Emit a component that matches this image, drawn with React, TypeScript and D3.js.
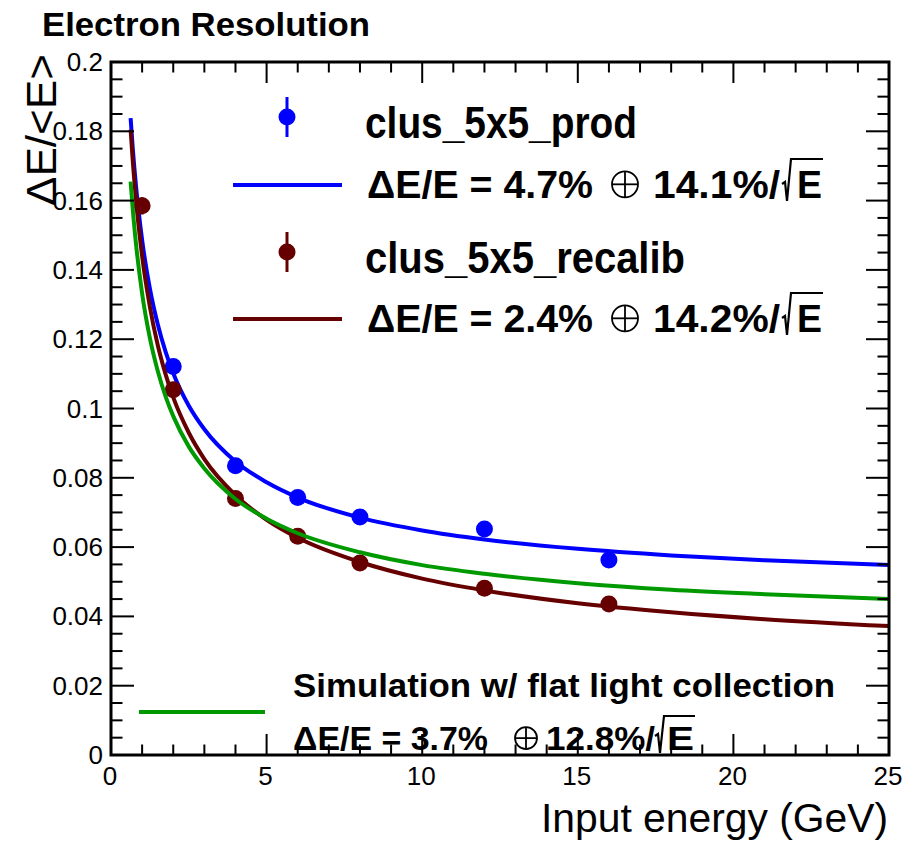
import React from "react";
import * as d3 from "d3";

// ---------- data ----------
const prodEnergy = [2, 4, 6, 8, 12, 16];
const prodRes = [0.1121, 0.0835, 0.0743, 0.0687, 0.0652, 0.0563];
const prodErr = [0.0015, 0.001, 0.001, 0.001, 0.0012, 0.001];

const recalEnergy = [1, 2, 4, 6, 8, 12, 16];
const recalRes = [0.1585, 0.1054, 0.074, 0.0631, 0.0554, 0.0481, 0.0436];
const recalErr = [0.0025, 0.0015, 0.001, 0.001, 0.001, 0.001, 0.001];

const fitEnergy = [0.63, 0.7, 0.8, 1, 1.25, 1.5, 1.75, 2, 2.5, 3, 4, 5, 6, 8, 10, 12, 15, 18, 21, 25];
const prodFit = [0.1838, 0.175, 0.1645, 0.1486, 0.1346, 0.1244, 0.1165, 0.1102, 0.1008, 0.094, 0.0847, 0.0787, 0.0743, 0.0685, 0.0648, 0.0622, 0.0595, 0.0576, 0.0562, 0.0548];
const recalFit = [0.1805, 0.1714, 0.1606, 0.144, 0.1293, 0.1184, 0.11, 0.1032, 0.093, 0.0854, 0.075, 0.0679, 0.0627, 0.0557, 0.0509, 0.0475, 0.0438, 0.0412, 0.0392, 0.0372];
const simFit = [0.1655, 0.1574, 0.1478, 0.1332, 0.1203, 0.1109, 0.1036, 0.0978, 0.089, 0.0827, 0.0739, 0.0682, 0.064, 0.0585, 0.0548, 0.0523, 0.0496, 0.0477, 0.0464, 0.045];

const xTicks = [0, 5, 10, 15, 20, 25];
const yTicks = [0, 0.02, 0.04, 0.06, 0.08, 0.1, 0.12, 0.14, 0.16, 0.18, 0.2];

const BLUE = "#0000ff";
const BROWN = "#660000";
const GREEN = "#009900";
const FONT = "'Liberation Sans', Arial, Helvetica, sans-serif";

const L = 111, R = 889, T = 62, B = 755;

function Radical({ x, yb, top, xEnd }: { x: number; yb: number; top: number; xEnd: number }) {
  return (
    <path
      d={`M${x},${yb - 14} L${x + 3},${yb - 16} L${x + 5},${yb + 3} L${x + 9},${top} L${xEnd},${top}`}
      fill="none"
      stroke="#000"
      strokeWidth={2.2}
    />
  );
}

function OPlus({ cx, cy, r }: { cx: number; cy: number; r: number }) {
  return (
    <g stroke="#000" strokeWidth={1.8} fill="none">
      <circle cx={cx} cy={cy} r={r} />
      <line x1={cx - r} x2={cx + r} y1={cy} y2={cy} />
      <line x1={cx} x2={cx} y1={cy - r} y2={cy + r} />
    </g>
  );
}

function Formula({ x, yb, size, a, b, w }: { x: number; yb: number; size: number; a: string; b: string; w: number[] }) {
  // w: [lenA, oplusStart, oplusEnd, bStart, bLen, radStart, eStart, eLen, overTopOffset]
  const [lenA, oS, oE, bS, bLen, rS, eS, eLen, topOff] = w;
  const r = (oE - oS) / 2;
  return (
    <g fontFamily={FONT}>
      <text x={x} y={yb} fontSize={size} fontWeight="bold" textLength={lenA} lengthAdjust="spacingAndGlyphs">
        {`ΔE/E = ${a}%`}
      </text>
      <OPlus cx={x + (oS + oE) / 2} cy={yb - size * 0.36} r={r} />
      <text x={x + bS} y={yb} fontSize={size} fontWeight="bold" textLength={bLen} lengthAdjust="spacingAndGlyphs">
        {`${b}%/`}
      </text>
      <Radical x={x + rS} yb={yb} top={yb - topOff} xEnd={x + eS + eLen + 1} />
      <text x={x + eS} y={yb} fontSize={size} fontWeight="bold" textLength={eLen} lengthAdjust="spacingAndGlyphs">
        E
      </text>
    </g>
  );
}

export default function App() {
  const x = d3.scaleLinear().domain([0, 25]).range([L, R]);
  const y = d3.scaleLinear().domain([0, 0.2]).range([B, T]);

  const line = d3
    .line<[number, number]>()
    .x((d) => x(d[0]))
    .y((d) => y(d[1]))
    .curve(d3.curveMonotoneX);

  const fitPath = (vals: number[]) => line(fitEnergy.map((e, i) => [e, vals[i]] as [number, number])) || "";

  const xMinor = d3.range(0, 25.001, 1);
  const yMinor = d3.range(0, 0.2001, 0.005);
  const fmtY = (v: number) => String(+v.toFixed(2));

  const points = (es: number[], vs: number[], errs: number[], color: string) =>
    es.map((e, i) => (
      <g key={i}>
        <line x1={x(e)} x2={x(e)} y1={y(vs[i] - errs[i])} y2={y(vs[i] + errs[i])} stroke={color} strokeWidth={3} />
        <circle cx={x(e)} cy={y(vs[i])} r={8.5} fill={color} />
      </g>
    ));

  const legX = 287;
  const rows = [117, 185, 252, 319];

  return (
    <svg width={910} height={842} style={{ position: "absolute", left: 0, top: 0, background: "#fff" }} fontFamily={FONT}>
      <rect x={0} y={0} width={910} height={842} fill="#fff" />
      {/* title */}
      <text x={42} y={36} fontSize={33} fontWeight="bold" textLength={328} lengthAdjust="spacingAndGlyphs">
        Electron Resolution
      </text>

      {/* curves and points */}
      <path d={fitPath(prodFit)} fill="none" stroke={BLUE} strokeWidth={4} />
      {points(prodEnergy, prodRes, prodErr, BLUE)}
      <path d={fitPath(recalFit)} fill="none" stroke={BROWN} strokeWidth={4} />
      {points(recalEnergy, recalRes, recalErr, BROWN)}
      <path d={fitPath(simFit)} fill="none" stroke={GREEN} strokeWidth={4} />

      {/* axes frame */}
      <rect x={L} y={T} width={R - L} height={B - T} fill="none" stroke="#000" strokeWidth={3} />
      {xMinor.map((v) => {
        const major = Math.abs(v % 5) < 1e-6;
        const len = major ? 21 : 10.5;
        return (
          <g key={"x" + v}>
            <line x1={x(v)} x2={x(v)} y1={B} y2={B - len} stroke="#000" strokeWidth={2} />
            <line x1={x(v)} x2={x(v)} y1={T} y2={T + len} stroke="#000" strokeWidth={2} />
          </g>
        );
      })}
      {yMinor.map((v, i) => {
        const major = i % 4 === 0;
        const len = major ? 23 : 11.5;
        return (
          <g key={"y" + i}>
            <line x1={L} x2={L + len} y1={y(v)} y2={y(v)} stroke="#000" strokeWidth={2} />
            <line x1={R} x2={R - len} y1={y(v)} y2={y(v)} stroke="#000" strokeWidth={2} />
          </g>
        );
      })}
      {xTicks.map((v) => (
        <text key={"xl" + v} x={x(v) - 1} y={785} fontSize={26} textAnchor="middle">
          {v}
        </text>
      ))}
      {yTicks.map((v) => (
        <text key={"yl" + v} x={103} y={y(v) + 9} fontSize={26} textAnchor="end">
          {fmtY(v)}
        </text>
      ))}

      {/* axis titles */}
      <text x={888} y={832} fontSize={40} textAnchor="end" textLength={347} lengthAdjust="spacingAndGlyphs">
        Input energy (GeV)
      </text>
      <text
        transform={`translate(56,${54}) rotate(-90)`}
        fontSize={42}
        textAnchor="end"
        textLength={152}
        lengthAdjust="spacingAndGlyphs"
      >
        ΔE/&lt;E&gt;
      </text>

      {/* legend */}
      <line x1={legX} x2={legX} y1={rows[0] - 20} y2={rows[0] + 20} stroke={BLUE} strokeWidth={3} />
      <circle cx={legX} cy={rows[0]} r={8.5} fill={BLUE} />
      <text x={365} y={rows[0] + 21} fontSize={44} fontWeight="bold" textLength={272} lengthAdjust="spacingAndGlyphs">
        clus_5x5_prod
      </text>
      <line x1={233} x2={342} y1={rows[1]} y2={rows[1]} stroke={BLUE} strokeWidth={4} />
      <Formula x={367} yb={rows[1] + 13} size={38} a="4.7" b="14.1" w={[226, 245, 271, 286, 127, 415, 430, 25, 39]} />

      <line x1={legX} x2={legX} y1={rows[2] - 20} y2={rows[2] + 20} stroke={BROWN} strokeWidth={3} />
      <circle cx={legX} cy={rows[2]} r={8.5} fill={BROWN} />
      <text x={365} y={rows[2] + 21} fontSize={44} fontWeight="bold" textLength={320} lengthAdjust="spacingAndGlyphs">
        clus_5x5_recalib
      </text>
      <line x1={233} x2={342} y1={rows[3]} y2={rows[3]} stroke={BROWN} strokeWidth={4} />
      <Formula x={367} yb={rows[3] + 13} size={38} a="2.4" b="14.2" w={[226, 245, 271, 286, 127, 415, 430, 25, 39]} />

      {/* simulation legend */}
      <line x1={139} x2={265} y1={712} y2={712} stroke={GREEN} strokeWidth={4} />
      <text x={293} y={697} fontSize={34} fontWeight="bold" textLength={542} lengthAdjust="spacingAndGlyphs">
        Simulation w/ flat light collection
      </text>
      <Formula x={293} yb={750} size={33} a="3.7" b="12.8" w={[195, 222, 244, 253, 109, 362, 374, 27, 34]} />
    </svg>
  );
}
